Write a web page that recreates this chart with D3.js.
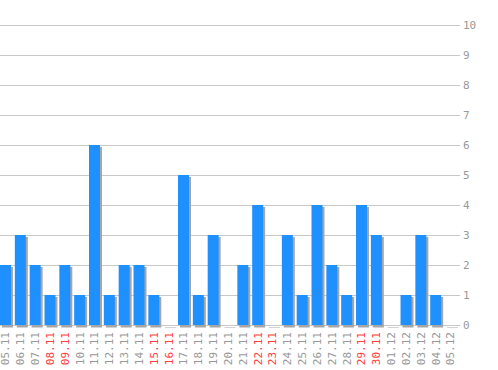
<!DOCTYPE html>
<html>
<head>
<meta charset="utf-8">
<script src="https://cdn.jsdelivr.net/npm/d3@7"></script>
<style>
  body { margin: 0; background: #fff; }
  text { font-family: "DejaVu Sans Mono", monospace; font-size: 11px; }
</style>
</head>
<body>
<svg id="chart" width="498" height="370"></svg>
<script>
const days = ["05.11","06.11","07.11","08.11","09.11","10.11","11.11","12.11","13.11","14.11",
  "15.11","16.11","17.11","18.11","19.11","20.11","21.11","22.11","23.11","24.11","25.11",
  "26.11","27.11","28.11","29.11","30.11","01.12","02.12","03.12","04.12","05.12"];
const counts = [2,3,2,1,2,1,6,1,2,2,1,0,5,1,3,0,2,4,0,3,1,4,2,1,4,3,0,1,3,1,0];
const weekends = ["08.11","09.11","15.11","16.11","22.11","23.11","29.11","30.11"];
const yTicks = [0,1,2,3,4,5,6,7,8,9,10];

const svg = d3.select("#chart");
let gridWidth = 460, plotTop = 25, plotBottom = 325;

var x = d3.scaleBand().domain(days).range([0, 456]).paddingInner(0.26).paddingOuter(0);
var y = d3.scaleLinear().domain([0, 10]).range([plotBottom, plotTop]);

// grid lines + labels on the right
var grid = svg.append("g").attr("class", "grid");
grid.selectAll("line")
  .data(yTicks)
  .enter()
  .append("line")
  .attr("x1", 0)
  .attr("x2", gridWidth)
  .attr("y1", d => Math.round(y(d)) + 0.5)
  .attr("y2", d => Math.round(y(d)) + 0.5)
  .attr("stroke", "#c8c8c8")
  .attr("stroke-width", 1);

grid.selectAll("text")
  .data(yTicks)
  .enter()
  .append("text")
  .attr("x", 463)
  .attr("y", d => y(d))
  .attr("dy", "0.35em")
  .attr("fill", "#999")
  .text(d => d);

// shadows first, then bars
svg.append("g")
  .selectAll("rect")
  .data(days)
  .enter()
  .append("rect")
  .attr("x", d => x(d) + 2)
  .attr("y", (d, i) => y(counts[i]) + 2)
  .attr("width", x.bandwidth())
  .attr("height", (d, i) => plotBottom - y(counts[i]) + 0.5)
  .attr("fill", "#a6a6a6");

svg.append("g")
  .selectAll("rect")
  .data(days)
  .enter()
  .append("rect")
  .attr("x", d => x(d))
  .attr("y", (d, i) => y(counts[i]))
  .attr("width", x.bandwidth())
  .attr("height", (d, i) => plotBottom - y(counts[i]))
  .attr("fill", "#1e90ff");

// rotated day labels
svg.append("g")
  .selectAll("text")
  .data(days)
  .enter()
  .append("text")
  .attr("transform", d => "translate(" + (x(d) + x.bandwidth() / 2) + ",332) rotate(-90)")
  .attr("text-anchor", "end")
  .attr("dy", "0.35em")
  .attr("fill", d => weekends.includes(d) ? "#ff4040" : "#999")
  .text(d => d);
</script>
</body>
</html>
